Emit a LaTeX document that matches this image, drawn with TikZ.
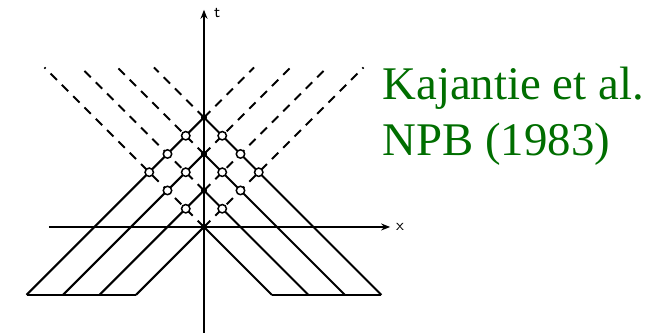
\documentclass[tikz,border=0pt]{standalone}
\usepackage{fontspec}
\setmainfont{Liberation Serif}
\usepackage{tikz}
\usetikzlibrary{arrows.meta}

\definecolor{citegreen}{RGB}{0,110,0}

\tikzset{
  worldline/.style={line width=1.05pt},
  ghostline/.style={line width=0.9pt, dash pattern=on 4.5pt off 3.5pt},
  axisline/.style={line width=0.7pt, -{Stealth[length=4.5pt,width=3.5pt]}},
  vertex/.style={circle, fill=black, inner sep=0pt, minimum size=3pt},
  hit/.style={circle, draw, fill=white, line width=0.75pt, inner sep=0pt, minimum size=4.2pt},
  axislabel/.style={font=\sffamily\fontsize{8}{9}\selectfont, inner sep=0pt},
  cite/.style={text=citegreen, font=\fontsize{23.4}{27}\selectfont, inner sep=0pt, anchor=base west}
}

\begin{document}
\begin{tikzpicture}[x=18.25pt, y=18.25pt]
    \useasboundingbox (-5.589,-2.986) rectangle (12.384,6.219);
    % bottom and top levels
    \def\tb{-1.86}
    \def\tt{4.37}
    % axes
    \coordinate (xs) at (-4.25,0);
    \coordinate (xe) at (5.1,0);
    \coordinate (ts) at (0,-2.9);
    \coordinate (te) at (0,5.95);
    \draw[axisline] (xs) -- (xe);
    \draw[axisline] (ts) -- (te);
    \node[axislabel] (xlab) at (5.37,0) {x};
    \node[axislabel] (tlab) at (0.36,5.86) {t};
    % vertices on the t axis
    \foreach \k in {0,1,2,3}{
        \node[vertex] (c\k) at (0,\k) {};
        \coordinate (bl\k) at ({-(\k-\tb)},\tb);
        \coordinate (br\k) at ({\k-\tb},\tb);
        \coordinate (tl\k) at ({-(\tt-\k)},\tt);
        \coordinate (tr\k) at ({\tt-\k},\tt);
        % solid lines down, dashed lines up
        \draw[worldline] (c\k.center) -- (bl\k);
        \draw[worldline] (c\k.center) -- (br\k);
        \draw[ghostline] (c\k.center) -- (tl\k);
        \draw[ghostline] (c\k.center) -- (tr\k);
    }
    % bottom edges
    \draw[worldline] (bl3) -- (bl0);
    \draw[worldline] (br0) -- (br3);
    % crossing points
    \foreach \j in {1,2,3}{
        \foreach \k in {0,...,3}{
            \ifnum\k<\j
                \node[hit] (l\j\k) at ({(\k-\j)/2},{(\j+\k)/2}) {};
                \node[hit] (r\j\k) at ({(\j-\k)/2},{(\j+\k)/2}) {};
            \fi
        }
    }
    % redraw vertices on top
    \foreach \k in {0,1,2,3}{
        \node[vertex] at (c\k) {};
    }
    % reference
    \node[cite] (ref1) at (4.88,3.48) {Kajantie et al.};
    \node[cite] (ref2) at (4.88,1.97) {NPB (1983)};
\end{tikzpicture}
\end{document}
